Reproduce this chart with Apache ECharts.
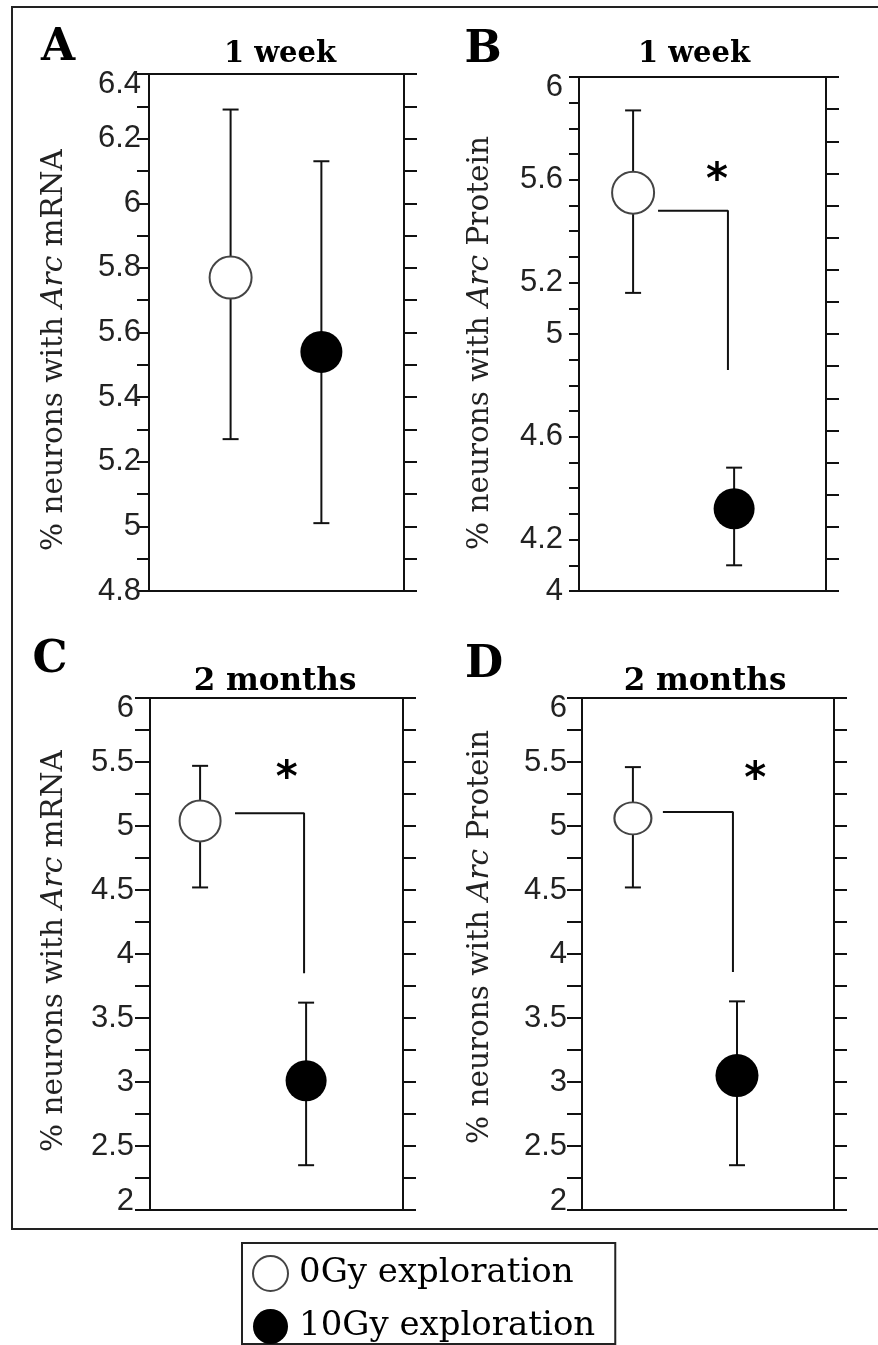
<!DOCTYPE html>
<html><head><meta charset="utf-8">
<script src="https://cdn.jsdelivr.net/npm/echarts@6/dist/echarts.min.js"></script>
<style>html,body{margin:0;padding:0;background:#fff}#c{width:878px;height:1345px}</style>
</head><body><div id="c"></div><script>
// ---------- data ----------
const groups = ['0Gy exploration', '10Gy exploration'];
const panelLetters = ['A', 'B', 'C', 'D'];
const panelTitles = ['1 week', '1 week', '2 months', '2 months'];
const yMeasures = ['mRNA', 'Protein', 'mRNA', 'Protein'];

const tickLabelsA = ['6.4', '6.2', '6', '5.8', '5.6', '5.4', '5.2', '5', '4.8'];
const tickLabelsB = ['6', '5.6', '5.2', '5', '4.6', '4.2', '4'];
const tickLabelsCD = ['6', '5.5', '5', '4.5', '4', '3.5', '3', '2.5', '2'];

const meanA = [5.77, 5.54];
const lowA = [5.27, 5.01];
const highA = [6.29, 6.13];

const meanB = [5.55, 4.32];
const lowB = [5.16, 4.10];
const highB = [5.87, 4.48];

const meanC = [5.04, 3.01];
const lowC = [4.52, 2.35];
const highC = [5.47, 3.62];

const meanD = [5.06, 3.05];
const lowD = [4.52, 2.35];
const highD = [5.46, 3.63];

// significance brackets: [level of horizontal arm, lower end of vertical arm], asterisk level
const bracketB = [5.48, 4.86]; const starB = 5.63;
const bracketC = [5.10, 3.85]; const starC = 5.44;
const bracketD = [5.11, 3.86]; const starD = 5.43;

// ---------- layout / style ----------
const panelData = [
  { mean: meanA, low: lowA, high: highA, labels: tickLabelsA, br: null, star: null },
  { mean: meanB, low: lowB, high: highB, labels: tickLabelsB, br: bracketB, star: starB },
  { mean: meanC, low: lowC, high: highC, labels: tickLabelsCD, br: bracketC, star: starC },
  { mean: meanD, low: lowD, high: highD, labels: tickLabelsCD, br: bracketD, star: starD }
];
const layout = [
  { left: 149, top: 74, width: 255, height: 517, min: 4.8, max: 6.4, step: 0.1, rStep: 0.1, margin: 8, tick: 12,
    x: [0.32, 0.676], open: 42, filled: 42, letter: [58, 49], title: [280, 54], name: [54, 350], botShift: false },
  { left: 579, top: 77, width: 247, height: 514, min: 4, max: 6, step: 0.1, rStep: 0.125, margin: 16, tick: 10,
    x: [0.219, 0.628], brX: [0.32, 0.603], starX: 0.559, open: 42, filled: 41, letter: [483, 51], title: [694, 54], name: [480, 343], botShift: false },
  { left: 150, top: 698, width: 253, height: 512, min: 2, max: 6, step: 0.25, rStep: 0.25, margin: 16, tick: 15,
    x: [0.198, 0.617], brX: [0.336, 0.609], starX: 0.54, open: 41, filled: 41, letter: [50, 661], title: [275, 682], name: [54, 951], botShift: true },
  { left: 582, top: 698, width: 252, height: 512, min: 2, max: 6, step: 0.25, rStep: 0.25, margin: 15, tick: 15,
    x: [0.202, 0.615], brX: [0.321, 0.599], starX: 0.687, open: [37, 32], filled: 43, letter: [484, 666], title: [705, 682], name: [480, 937], botShift: true }
];

const INK = '#111';
const LBL_FONT = 'Liberation Sans';
const SERIF = 'DejaVu Serif';

const grid = [], xAxis = [], yAxis = [], series = [], graphic = [];

layout.forEach((L, i) => {
  const D = panelData[i];
  grid.push({ left: L.left, top: L.top, width: L.width, height: L.height, containLabel: false });
  const xBase = { type: 'value', gridIndex: i, min: 0, max: 1, axisLabel: { show: false }, axisTick: { show: false },
    splitLine: { show: false }, axisLine: { show: true, onZero: false, lineStyle: { color: INK, width: 2 } } };
  xAxis.push(Object.assign({}, xBase, { position: 'bottom' }));
  xAxis.push(Object.assign({}, xBase, { position: 'top' }));
  const xi = 2 * i;

  const maxStr = String(L.max), minStr = String(L.min);
  yAxis.push({
    type: 'value', gridIndex: i, position: 'left', min: L.min, max: L.max, interval: L.step,
    splitLine: { show: false },
    axisLine: { show: true, onZero: false, lineStyle: { color: INK, width: 2 } },
    axisTick: { show: true, inside: false, length: L.tick, lineStyle: { color: INK, width: 2 } },
    axisLabel: {
      show: true, showMinLabel: true, showMaxLabel: true, margin: L.margin,
      fontFamily: LBL_FONT, fontSize: 31, color: '#222',
      formatter: function (v) {
        const s = String(+(+v).toFixed(3));
        if (D.labels.indexOf(s) < 0) return '';
        if (s === maxStr) return '{t|' + s + '}';
        if (s === minStr && L.botShift) return '{b|' + s + '}';
        return s;
      },
      rich: {
        t: { fontFamily: LBL_FONT, fontSize: 31, color: '#222', padding: [20, 0, 0, 0] },
        b: { fontFamily: LBL_FONT, fontSize: 31, color: '#222', padding: [0, 0, 18, 0] }
      }
    }
  });
  yAxis.push({
    type: 'value', gridIndex: i, position: 'right', min: L.min, max: L.max, interval: L.rStep,
    splitLine: { show: false },
    axisLine: { show: true, onZero: false, lineStyle: { color: INK, width: 2 } },
    axisTick: { show: true, inside: false, length: 13, lineStyle: { color: INK, width: 2 } },
    axisLabel: { show: false }
  });
  const yi = 2 * i;

  // error bars
  series.push({
    type: 'custom', xAxisIndex: xi, yAxisIndex: yi, silent: true, z: 2,
    data: D.mean.map((m, g) => [L.x[g], D.low[g], D.high[g]]),
    renderItem: function (params, api) {
      const x = api.value(0);
      const pLo = api.coord([x, api.value(1)]);
      const pHi = api.coord([x, api.value(2)]);
      const st = { stroke: INK, lineWidth: 2 };
      return { type: 'group', children: [
        { type: 'line', shape: { x1: pLo[0], y1: pLo[1], x2: pHi[0], y2: pHi[1] }, style: st },
        { type: 'line', shape: { x1: pHi[0] - 8, y1: pHi[1], x2: pHi[0] + 8, y2: pHi[1] }, style: st },
        { type: 'line', shape: { x1: pLo[0] - 8, y1: pLo[1], x2: pLo[0] + 8, y2: pLo[1] }, style: st }
      ] };
    }
  });
  // means
  series.push({
    type: 'scatter', name: groups[0], xAxisIndex: xi, yAxisIndex: yi, z: 5, silent: true,
    symbol: 'circle', symbolSize: L.open,
    itemStyle: { color: '#fff', borderColor: '#444', borderWidth: 2, opacity: 1 },
    data: [[L.x[0], D.mean[0]]]
  });
  series.push({
    type: 'scatter', name: groups[1], xAxisIndex: xi, yAxisIndex: yi, z: 5, silent: true,
    symbol: 'circle', symbolSize: L.filled,
    itemStyle: { color: '#000', opacity: 1 },
    data: [[L.x[1], D.mean[1]]]
  });
  // significance bracket + asterisk
  if (D.br) {
    series.push({
      type: 'line', xAxisIndex: xi, yAxisIndex: yi, z: 3, silent: true, symbol: 'none',
      lineStyle: { color: INK, width: 2 },
      data: [[L.brX[0], D.br[0]], [L.brX[1], D.br[0]], [L.brX[1], D.br[1]]]
    });
    series.push({
      type: 'custom', xAxisIndex: xi, yAxisIndex: yi, z: 6, silent: true,
      data: [[L.starX, D.star]],
      renderItem: function (params, api) {
        const p = api.coord([api.value(0), api.value(1)]);
        return { type: 'text', x: p[0], y: p[1] + 10,
          style: { text: '*', fontFamily: 'DejaVu Sans', fontWeight: 'bold', fontSize: 42, fill: '#000',
                   align: 'center', verticalAlign: 'middle' } };
      }
    });
  }

  // panel letter, title, y-axis name
  graphic.push({ type: 'text', x: L.letter[0], y: L.letter[1], silent: true,
    style: { text: panelLetters[i], fontFamily: SERIF, fontWeight: 'bold', fontSize: 44, fill: '#000',
             align: 'center', verticalAlign: 'middle' } });
  graphic.push({ type: 'text', x: L.title[0], y: L.title[1], silent: true,
    style: { text: panelTitles[i], fontFamily: SERIF, fontWeight: 'bold', fontSize: i < 2 ? 29 : 31, fill: '#000',
             align: 'center', verticalAlign: 'middle' } });
  graphic.push({ type: 'text', x: L.name[0], y: L.name[1], rotation: Math.PI / 2, silent: true,
    style: { text: '% neurons with {i|Arc} ' + yMeasures[i], fontFamily: SERIF, fontSize: 29.5, fill: '#222',
             align: 'center', verticalAlign: 'middle',
             rich: { i: { fontFamily: SERIF, fontSize: 29.5, fontStyle: 'italic', fill: '#222', color: '#222' } } } });
});

// outer frame
graphic.push({ type: 'rect', silent: true, z: -1,
  shape: { x: 12, y: 7, width: 880, height: 1222 },
  style: { fill: 'none', stroke: '#222', lineWidth: 2 } });

const option = {
  animation: false,
  backgroundColor: '#fff',
  grid, xAxis, yAxis, series, graphic,
  legend: {
    orient: 'vertical', left: 242, top: 1243, height: 100,
    padding: [12, 20, 0, 10], itemGap: 17, itemWidth: 35, itemHeight: 35,
    borderColor: '#222', borderWidth: 2, selectedMode: false,
    textStyle: { fontFamily: SERIF, fontSize: 34, color: '#000', lineHeight: 35, padding: [0, 0, 0, 6] },
    data: [
      { name: groups[0], icon: 'circle', itemStyle: { color: '#fff', borderColor: '#444', borderWidth: 2 } },
      { name: groups[1], icon: 'circle', itemStyle: { color: '#000' } }
    ]
  }
};

const chart = echarts.init(document.getElementById('c'), null, { renderer: 'canvas' });
chart.setOption(option);
</script></body></html>
